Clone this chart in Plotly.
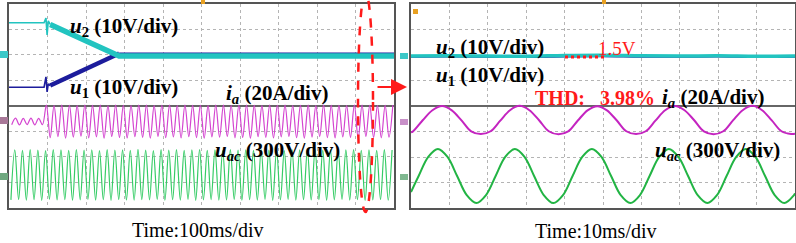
import numpy as np
import plotly.graph_objects as go

W, H = 796, 243

# ---------------- data: left capture (Time: 100 ms/div) ----------------
# u1, u2 in volts (10 V/div)
left_u_t = [0, 91, 96, 99, 102, 107, 286, 1000]
u2_left = [13.1, 13.1, 14.9, 8.3, 13.8, 12.4, 0.0, 0.0]
u1_left = [-12.3, -12.3, -8.2, -14.1, -11.0, -11.6, 1.0, 1.0]

half_period_ms = 10  # 50 Hz grid (5 cycles per division)

# uac in volts (300 V/div): troughs at 5, 25, ... ms ; peaks at 15, 35, ... ms
uac_left_troughs = [-294, -288, -297, -291, -299, -286, -295, -290, -298, -293,
                    -287, -296, -292, -299, -289, -295, -297, -290, -294, -288,
                    -298, -292, -296, -287, -299, -293, -290, -297, -295, -288,
                    -298, -291, -296, -289, -299, -294, -287, -297, -292, -295,
                    -290, -298, -293, -288, -296, -291, -299, -294, -289, -297]
uac_left_peaks = [296, 290, 299, 293, 287, 298, 295, 289, 300, 292,
                  297, 288, 299, 294, 296, 290, 301, 293, 287, 298,
                  292, 299, 289, 296, 300, 291, 295, 288, 299, 294,
                  297, 290, 298, 292, 296, 287, 300, 295, 290, 298,
                  293, 299, 288, 296, 300, 291, 295, 289, 299, 294]

# ia in amperes (20 A/div): troughs at 7, 27, ... ms ; peaks at 17, 37, ... ms
ia_left_troughs = [-2.5, -2.7, -2.4, -2.6, -2.5, -12.6, -11.8, -13.0, -12.2, -11.5,
                   -12.8, -12.0, -13.1, -11.7, -12.5, -12.9, -11.9, -12.4, -13.0, -11.6,
                   -12.7, -12.1, -12.9, -11.8, -12.6, -13.0, -12.0, -12.3, -11.7, -12.8,
                   -12.5, -13.1, -11.9, -12.4, -12.9, -12.0, -11.6, -12.7, -13.0, -12.2,
                   -11.8, -12.6, -12.9, -12.1, -12.4, -13.0, -11.7, -12.5, -12.8, -12.2]
ia_left_peaks = [2.6, 2.4, 2.7, 2.5, 12.9, 12.6, 13.0, 12.8, 12.5, 13.0,
                 12.7, 12.9, 12.4, 13.0, 12.8, 12.6, 12.9, 13.0, 12.5, 12.8,
                 12.9, 12.6, 13.0, 12.7, 12.8, 12.5, 13.0, 12.9, 12.6, 12.8,
                 13.0, 12.7, 12.5, 12.9, 12.8, 13.0, 12.6, 12.8, 12.9, 12.5,
                 13.0, 12.7, 12.8, 12.6, 12.9, 13.0, 12.7, 12.5, 12.8, 12.9]

# ---------------- data: right capture (Time: 10 ms/div) ----------------
u_right_t = [0, 10, 20, 30, 40, 50, 60, 70, 80, 90, 100]
u2_right = [0.0, 0.1, 0.0, -0.1, 0.2, 0.3, 0.1, 0.0, 0.1, -0.1, 0.0]
u1_right = [-0.3, -0.2, -0.3, -0.4, -0.2, -0.1, -0.3, -0.3, -0.2, -0.4, -0.3]

# ia (A), sampled every 1/8 cycle
ia_right_t = [0, 0.53, 3.05, 5.58, 8.1, 10.63, 13.15, 15.68, 18.2, 20.73, 23.25,
              25.78, 28.3, 30.83, 33.35, 35.88, 38.4, 40.93, 43.45, 45.98, 48.5,
              51.03, 53.55, 56.08, 58.6, 61.13, 63.65, 66.18, 68.7, 71.23, 73.75,
              76.28, 78.8, 81.33, 83.85, 86.38, 88.9, 91.43, 93.95, 96.48, 99.0, 100]
ia_right = [-9.2, -8.5, 0.2, 8.1, 11.4, 8.0, 0.1, -8.5, -10.6, -8.4, -0.1,
            8.1, 11.5, 8.1, 0.2, -8.4, -10.7, -8.5, 0.0, 8.0, 11.3,
            8.0, 0.2, -8.4, -10.6, -8.4, -0.1, 8.1, 11.4, 8.1, 0.2,
            -8.5, -10.7, -8.4, 0.1, 8.1, 11.5, 8.1, 0.1, -8.4, -10.6, -10.4]

# uac (V), sampled every 1/8 cycle
uac_right_t = [0, 1.99, 4.49, 7.0, 9.51, 12.01, 14.52, 17.02, 19.53, 22.04,
               24.54, 27.05, 29.56, 32.06, 34.57, 37.07, 39.58, 42.08, 44.59, 47.1,
               49.6, 52.11, 54.62, 57.12, 59.63, 62.13, 64.64, 67.15, 69.65, 72.16,
               74.66, 77.17, 79.68, 82.18, 84.69, 87.2, 89.7, 92.21, 94.71, 97.22,
               99.73, 100]
uac_right = [-188, 0, 225, 318, 224, 0, -225, -318, -224, 0,
             225, 317, 225, 0, -224, -319, -225, 0, 224, 318,
             225, 0, -225, -318, -224, 0, 225, 319, 224, 0,
             -225, -317, -225, 0, 225, 318, 224, 0, -224, -318,
             -225, -204]

# ---------------- scope settings (scale per div, channel offsets in div) ----------------
U_DIV, IA_DIV, UAC_DIV = 10.0, 20.0, 300.0
U_OFF_L, IA_OFF_L, UAC_OFF_L = 1.955, -0.62, -2.72
U_OFF_R, IA_OFF_R, UAC_OFF_R = 1.96, -0.57, -2.745

CYAN, BLUE = "#22c4c0", "#1c1c9c"
MAG_L, MAG_R = "#d444d0", "#c424c0"
GRN_L, GRN_R = "#36cc66", "#22b444"
RED = "#ff1a1a"
SERIF = "Liberation Serif, Times New Roman, serif"


def interleave(first, second):
    out = []
    for a, b in zip(first, second):
        out += [a, b]
    return out


def to_div(vals, scale, off):
    return [v / scale + off for v in vals]


uac_l_vals = interleave(uac_left_troughs, uac_left_peaks)
uac_l_t = [5 + half_period_ms * k for k in range(len(uac_l_vals))]
ia_l_vals = interleave(ia_left_troughs, ia_left_peaks)
ia_l_t = [7 + half_period_ms * k for k in range(len(ia_l_vals))]

fig = go.Figure()


def seg(t, v, i0, i1, color, width, scale, off, xa="x", ya="y", shape="linear"):
    fig.add_trace(go.Scatter(x=t[i0:i1], y=to_div(v[i0:i1], scale, off), mode="lines",
                             line=dict(color=color, width=width, shape=shape), xaxis=xa, yaxis=ya))


# left panel
seg(left_u_t, u1_left, 0, 6, BLUE, 1.6, U_DIV, U_OFF_L)
seg(left_u_t, u1_left, 5, 7, BLUE, 4.5, U_DIV, U_OFF_L)
seg(left_u_t, u1_left, 6, 8, BLUE, 2.0, U_DIV, U_OFF_L)
seg(left_u_t, u2_left, 0, 6, CYAN, 1.6, U_DIV, U_OFF_L)
seg(left_u_t, u2_left, 5, 8, CYAN, 5.5, U_DIV, U_OFF_L)
seg(ia_l_t, ia_l_vals, 0, None, MAG_L, 1.2, IA_DIV, IA_OFF_L, shape="spline")
seg(uac_l_t, uac_l_vals, 0, None, GRN_L, 1.2, UAC_DIV, UAC_OFF_L, shape="spline")

# right panel
seg(u_right_t, u1_right, 0, None, BLUE, 2, U_DIV, U_OFF_R, "x2", "y2", "spline")
seg(u_right_t, u2_right, 0, None, CYAN, 3.5, U_DIV, U_OFF_R, "x2", "y2", "spline")
seg(ia_right_t, ia_right, 0, None, MAG_R, 2, IA_DIV, IA_OFF_R, "x2", "y2", "spline")
seg(uac_right_t, uac_right, 0, None, GRN_R, 2, UAC_DIV, UAC_OFF_R, "x2", "y2", "spline")


def px(x, y):
    return x / W, 1 - y / H


grid = dict(showgrid=True, gridcolor="#b4b4b4", griddash="dot", gridwidth=1,
            showline=True, mirror=True, linecolor="#555555", linewidth=2,
            showticklabels=False, ticks="", fixedrange=True)

fig.update_layout(
    width=W, height=H, margin=dict(l=0, r=0, t=0, b=0),
    paper_bgcolor="white", plot_bgcolor="white", showlegend=False,
    xaxis=dict(domain=[9 / W, 394 / W], range=[0, 1000], dtick=100, zeroline=False, anchor="y", **grid),
    yaxis=dict(domain=[1 - 207.5 / H, 1 - 4 / H], range=[-4, 4], dtick=1, zeroline=True,
               zerolinecolor="#666666", zerolinewidth=1.5, anchor="x", **grid),
    xaxis2=dict(domain=[411 / W, 795 / W], range=[0, 100], dtick=10, zeroline=False, anchor="y2", **grid),
    yaxis2=dict(domain=[1 - 208 / H, 1 - 4 / H], range=[-4, 4], dtick=1, zeroline=True,
                zerolinecolor="#666666", zerolinewidth=1.5, anchor="x2", **grid),
)

ann = []


def label(text, x, y, size=21, color="black"):
    ax, ay = px(x, y)
    ann.append(dict(text=text, x=ax, y=ay, xref="paper", yref="paper", showarrow=False,
                    xanchor="center", yanchor="middle",
                    font=dict(family=SERIF, size=size, color=color)))


label("<b><i>u</i><sub>2</sub> (10V/div)</b>", 124, 27)
label("<b><i>u</i><sub>1</sub> (10V/div)</b>", 124, 88)
label("<b><i>i<sub>a</sub></i> (20A/div)</b>", 277, 94)
label("<b><i>u<sub>ac</sub></i> (300V/div)</b>", 277, 151)
label("<b><i>u</i><sub>2</sub> (10V/div)</b>", 490, 48)
label("<b><i>u</i><sub>1</sub> (10V/div)</b>", 490, 76)
label("1.5V", 617, 48, size=19, color=RED)
label("<b>THD:</b>", 560, 98, size=20, color=RED)
label("<b>3.98%</b>", 627, 98, size=20, color=RED)
label("<b><i>i<sub>a</sub></i> (20A/div)</b>", 713, 98)
label("<b><i>u<sub>ac</sub></i> (300V/div)</b>", 717, 151)
label("Time:100ms/div", 198, 230, size=20)
label("Time:10ms/div", 596, 231, size=20)

# red arrow between panels
ax0, ay0 = px(407, 87)
ann.append(dict(text="", x=ax0, y=ay0, xref="paper", yref="paper", showarrow=True,
                ax=-31, ay=0, arrowhead=2, arrowsize=1.6, arrowwidth=2, arrowcolor=RED))
fig.update_layout(annotations=ann)

shapes = []


def rect(x0, y0, x1, y1, color):
    a, b = px(x0, y1)
    c, d = px(x1, y0)
    shapes.append(dict(type="rect", xref="paper", yref="paper", x0=a, y0=b, x1=c, y1=d,
                       fillcolor=color, line=dict(width=0)))


# channel / trigger markers of the scope screens
rect(0, 51, 8, 58, "#3cc8c8")
rect(0, 117, 8, 124, "#a87898")
rect(0, 173, 8, 180, "#70a880")
rect(400, 53, 408, 59, "#3cc8c8")
rect(400, 119, 408, 125, "#c890c8")
rect(400, 174, 408, 180, "#80b890")
rect(201, 0, 205, 4, "#e8a020")
rect(413, 9, 418, 14, "#e8a020")
rect(602, 0, 606, 4, "#e8a020")

# dashed red ellipse
e0x, e0y = px(358, 212)
e1x, e1y = px(373, -8)
shapes.append(dict(type="circle", xref="paper", yref="paper", x0=e0x, y0=e0y, x1=e1x, y1=e1y,
                   line=dict(color=RED, width=2.5, dash="dash")))
# red dotted marker of the 1.5 V band
d0x, d0y = px(565, 57)
d1x, d1y = px(607, 57)
shapes.append(dict(type="line", xref="paper", yref="paper", x0=d0x, y0=d0y, x1=d1x, y1=d1y,
                   line=dict(color=RED, width=3, dash="dot")))
fig.update_layout(shapes=shapes)

fig.write_html("out.html", config={"displayModeBar": False, "staticPlot": True},
               post_script="document.body.style.margin='0';document.body.style.overflow='hidden';")
